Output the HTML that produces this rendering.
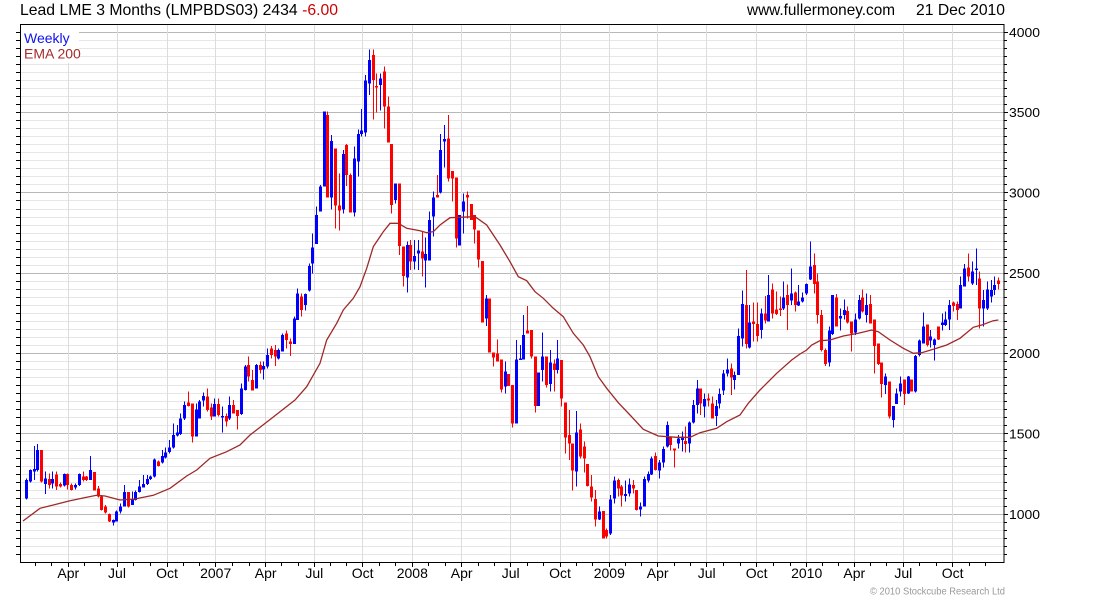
<!DOCTYPE html>
<html>
<head>
<meta charset="utf-8">
<style>
html,body{margin:0;padding:0;background:#fff;}
svg{display:block;font-family:"Liberation Sans",Arial,sans-serif;}
</style>
</head>
<body>
<svg id="c" width="1100" height="600" viewBox="0 0 1100 600" xmlns="http://www.w3.org/2000/svg">
<rect x="0" y="0" width="1100" height="600" fill="#fff"/>
<g id="grid" shape-rendering="crispEdges"></g>
<rect x="21" y="25" width="58" height="38" fill="#fff"/>
<text x="24" y="43" font-size="14" fill="#1010ee">Weekly</text>
<text x="24" y="58.5" font-size="14" fill="#a52a2a">EMA 200</text>
<g id="candles" shape-rendering="crispEdges"></g>
<polyline id="ema" fill="none" stroke="#a02828" stroke-width="1.3" points=""/>
<rect x="20.5" y="24.5" width="983.5" height="538" fill="none" stroke="#000" stroke-width="1" shape-rendering="crispEdges"/>
<g id="axes" shape-rendering="crispEdges"></g>
<g id="labels" font-size="14" fill="#000"></g>
<text x="20" y="15" font-size="16" fill="#000" textLength="318" lengthAdjust="spacingAndGlyphs">Lead LME 3 Months (LMPBDS03) 2434 <tspan fill="#cc0000">-6.00</tspan></text>
<text x="747" y="15" font-size="16" fill="#000" textLength="148" lengthAdjust="spacingAndGlyphs">www.fullermoney.com</text>
<text x="916" y="15" font-size="16" fill="#000" textLength="89" lengthAdjust="spacingAndGlyphs">21 Dec 2010</text>
<text x="870" y="594.5" font-size="10" fill="#999" textLength="135" lengthAdjust="spacingAndGlyphs">© 2010 Stockcube Research Ltd</text>
</svg>
<script>
(function(){
var NS="http://www.w3.org/2000/svg";
function el(tag,attrs,parent,txt){var e=document.createElementNS(NS,tag);for(var k in attrs)e.setAttribute(k,attrs[k]);if(txt!==undefined)e.textContent=txt;parent.appendChild(e);return e;}
var grid=document.getElementById('grid'),axes=document.getElementById('axes'),labels=document.getElementById('labels'),cg=document.getElementById('candles');
function yv(v){return 514.3-(v-1000)*0.160667;}
// horizontal gridlines
for(var v=750;v<=4000;v+=50){
  var y=Math.floor(yv(v))+0.5;
  var major=(v%500===0);
  el('line',{x1:21,x2:1004,y1:y,y2:y,stroke:major?'#b8b8b8':'#e6e6e6','stroke-width':1},grid);
  el('line',{x1:1004,x2:major?1008:1007,y1:y,y2:y,stroke:'#000','stroke-width':1},axes);
  el('line',{x1:16,x2:20,y1:y,y2:y,stroke:'#000','stroke-width':1},axes);
  if(major){el('text',{x:1009,y:(yv(v)+4.6).toFixed(1),'font-size':13,textLength:31,lengthAdjust:'spacingAndGlyphs'},labels,String(v));}
}
// vertical gridlines
var q=[68.3,117,167,215.7,265.7,314.3,362.7,412.3,461.7,510.7,560,609.3,657.7,706.7,756.7,806.7,854.3,903.3,952.7];
var ql=['Apr','Jul','Oct','2007','Apr','Jul','Oct','2008','Apr','Jul','Oct','2009','Apr','Jul','Oct','2010','Apr','Jul','Oct'];
for(var k=0;k<q.length;k++){
  var x=Math.floor(q[k])+0.5;
  el('line',{x1:x,x2:x,y1:25,y2:562,stroke:'#dcdcdc','stroke-width':1},grid);
  el('line',{x1:x,x2:x,y1:563,y2:567,stroke:'#000','stroke-width':1},axes);
  el('text',{x:q[k],y:578,'text-anchor':'middle'},labels,ql[k]);
}
var qe=[19.3].concat(q).concat([1002]);
for(var k=0;k<qe.length-1;k++){
  for(var j=1;j<3;j++){
    var x=Math.floor(qe[k]+(qe[k+1]-qe[k])*j/3)+0.5;
    el('line',{x1:x,x2:x,y1:563,y2:566,stroke:'#000','stroke-width':1},axes);
  }
}
// candles: [blue?, bodyTop, bodyBot, wickTop, wickBot] in zoom units; real = y0 + z/3
var s1=[[1,330,385,325,388],[1,300,335,298,338],[1,297,305,228,330],[1,240,300,222,305],[0,240,335,240,338],[1,325,342,305,372],[0,327,345,310,355],[1,327,340,305,355],[0,313,350,305,360],[0,342,350,338,352],
[1,312,347,310,350],[0,312,345,310,358],[0,345,360,340,362],[1,345,352,340,358],[1,312,345,310,348],[0,320,330,305,335],[0,320,330,318,333],[1,300,330,258,330],[0,306,362,306,362],[0,355,380,348,382],
[0,380,420,375,422],[0,410,428,405,430],[0,432,455,430,456],[1,450,457,448,467],[1,425,455,422,455],[1,410,425,400,430],[1,366,410,345,410],[0,366,410,366,413],[1,388,405,365,405],[1,366,390,362,392],
[1,350,366,330,368],[1,342,352,315,352],[1,327,342,315,345],[1,320,327,316,330],[1,268,320,265,322],[0,275,288,272,290],[1,258,278,240,280],[1,247,262,232,265],[1,232,246,210,250],[1,195,232,160,235],
[1,188,196,165,200],[1,145,192,130,195],[1,105,145,95,150],[0,98,108,65,110],[0,100,200,100,218],[1,118,200,100,200],[1,95,145,90,145],[1,78,92,68,110],[0,80,120,55,125],[0,112,140,100,150],
[1,102,140,85,140],[0,102,135,85,140],[1,138,142,110,188],[0,138,155,130,170],[1,105,145,80,150],[0,105,130,90,130],[0,120,138,120,178],[1,55,132,40,135]];
var s2=[[1,980,1050,975,1052],[0,975,1010,950,1025],[0,1020,1052,990,1052],[1,975,1045,972,1045],[0,975,990,965,1000],[1,978,988,965,1018],[1,945,980,925,985],[0,925,945,918,955],[0,930,950,915,978],[1,930,955,925,958],
[1,885,935,880,935],[0,880,900,872,925],[0,905,912,895,948],[1,835,912,830,912],[1,760,840,745,840],[0,770,810,760,830],[1,762,795,760,812],[1,678,752,670,755],[1,622,670,580,700],[1,525,612,500,612],
[1,440,515,435,515],[1,215,440,215,440],[0,225,472,215,472],[1,303,472,285,508],[0,326,497,326,565],[0,497,512,400,572],[1,342,508,330,520],[0,315,405,312,438],[0,405,518,400,518],[1,355,518,320,530],
[1,282,365,268,410],[1,272,282,207,290],[1,122,278,105,290],[1,60,130,28,165],[0,45,120,28,238],[0,138,143,100,218],[1,115,135,100,212],[0,95,200,80,265],[0,200,308,170,308],[0,312,495,312,520],
[1,430,480,430,490],[0,430,618,430,645],[0,620,708,620,740],[1,615,712,605,757],[0,615,665,600,690],[1,648,665,600,688],[1,632,640,600,690]];
var s3=[[0,425,445,365,500],[1,432,452,382,532],[1,330,452,305,452],[1,262,320,245,380],[0,255,262,195,262],[1,120,248,72,250],[1,87,95,45,172],[0,85,205,15,215],[0,183,205,183,275],[0,202,385,202,412],
[1,315,407,315,407],[1,275,305,250,370],[0,255,262,245,325],[0,282,330,282,330],[0,315,358,315,400],[0,362,448,362,472],[0,453,638,453,638],[1,565,625,555,648],[0,565,728,565,728],[0,728,742,728,770],
[0,730,755,688,755],[0,748,838,748,848],[1,785,830,755,850],[0,792,828,792,828],[0,825,940,825,953],[1,748,940,690,940],[1,745,748,705,748],[1,675,748,615,748],[0,662,670,588,670],[0,660,740,660,745],
[0,740,888,740,908],[1,787,888,787,888],[1,740,780,668,815],[0,740,825,740,832],[1,757,822,720,845],[0,760,780,748,845],[1,745,780,690,790],[0,750,865,750,890],[0,878,982,878,1030],[0,975,1000,900,1050],
[0,1000,1082,1000,1142],[1,967,1085,903,1130],[0,958,1040,940,1045],[0,1010,1045,995,1088],[0,1062,1128,1062,1130],[0,1130,1163,1095,1175],[0,1167,1228,1140,1250],[1,1205,1228,1190,1230]];
var s4=[[0,843,925,843,925],[0,900,920,895,925],[1,808,910,795,915],[1,752,805,740,820],[0,750,775,745,800],[0,770,797,765,830],[1,792,798,752,815],[1,763,790,745,800],[0,765,775,750,790],[0,780,840,780,842],
[1,830,838,818,860],[1,747,830,740,830],[1,732,752,725,758],[1,685,733,680,735],[0,678,720,668,722],[1,698,722,690,745],[1,657,698,650,713],[1,585,650,575,652],[0,622,645,622,662],[0,656,662,655,713],
[1,625,640,615,655],[1,620,630,605,665],[0,633,642,590,668],[1,578,640,575,668],[1,525,578,510,580],[1,475,525,450,550],[0,475,520,475,555],[1,507,530,490,562],[0,505,512,490,530],[0,520,565,500,565],
[1,528,558,510,588],[1,492,520,475,535],[1,430,482,420,495],[1,418,430,385,440],[0,415,442,400,495],[1,435,450,425,478],[1,318,435,295,435],[1,222,325,182,350],[0,225,342,120,355],[1,278,352,225,355],
[0,275,282,218,335],[0,282,318,218,335],[1,250,300,235,325],[0,250,272,198,280],[1,195,275,135,275],[0,178,250,160,265],[0,238,252,185,255],[0,235,240,200,258],[1,202,235,155,240],[0,195,225,163,300],
[1,190,212,115,225],[0,188,225,185,245],[1,215,227,165,228],[1,202,215,188,218],[1,162,190,160,195]];
var s5=[[1,110,148,35,150],[0,105,162,70,190],[0,155,255,130,280],[0,255,360,240,365],[0,360,402,355,408],[1,302,398,290,410],[1,195,312,195,315],[0,202,290,192,290],[1,258,265,235,302],[1,240,255,208,268],
[0,243,278,230,280],[0,275,310,275,365],[1,268,308,250,315],[1,210,265,195,268],[0,202,245,178,248],[1,225,255,190,278],[0,222,280,195,280],[0,268,348,268,430],[0,340,402,340,405],[0,398,462,398,502],
[1,440,465,430,492],[0,455,560,455,565],[1,528,570,528,592],[1,490,522,475,522],[1,460,485,440,500],[0,448,492,448,525],[1,440,490,438,492],[0,448,485,448,485],[1,378,485,375,488],[1,332,375,328,380],
[1,290,340,248,340],[0,283,345,283,350],[1,320,332,300,352],[1,328,345,325,392],[0,290,328,290,330],[1,278,285,250,302],[1,268,285,245,288],[1,225,268,210,300],[0,218,228,215,245],[0,222,240,215,270],
[1,165,235,140,235],[1,115,170,102,170],[0,112,140,70,155],[1,125,160,95,165],[1,115,120,55,165],[0,145,235,125,295],[1,210,235,180,290],[1,178,235,155,240],[1,180,200,150,218],[1,165,180,140,195],
[0,152,162,142,178]];
var segs=[[370,s1],[40,s2],[110,s3],[230,s4],[230,s5]];
var idx=0;
for(var s=0;s<segs.length;s++){
  var y0=segs[s][0],arr=segs[s][1];
  for(var n=0;n<arr.length;n++){
    var c=arr[n];
    var cx=Math.round(26+idx*3.768);
    var col=c[0]?'#0000ff':'#ff0000';
    var bt=y0+c[1]/3,bb=y0+c[2]/3,wt=y0+c[3]/3,wb=y0+c[4]/3;
    el('rect',{x:cx,y:wt.toFixed(1),width:1,height:Math.max(wb-wt,1).toFixed(1),fill:col},cg);
    el('rect',{x:cx-1,y:bt.toFixed(1),width:3,height:Math.max(bb-bt,1.5).toFixed(1),fill:col},cg);
    idx++;
  }
}
// EMA
var ema=[[23,521],[40,508.3],[53.3,505],[70,500.7],[86.7,497.3],[96.7,495.3],[105,496],[120,500],[135,499],[153.3,495.3],[170,488.3],[186.7,476],[196.7,470],[210,458.3],[226.7,451.7],[240,445],[250,435],[272,418],[295,400],[306.7,386.7],[320,363.3],[326.7,340],[336.7,323.3],[343.3,310],[353.3,298.3],[360,286.7],[366.7,268.3],[373.3,246.7],[383.3,231.7],[390,223.3],[398.3,223.3],[406.7,228.3],[420,230.7],[426.7,232.7],[433.3,231.7],[440,225],[450,217.7],[475,216.7],[486.7,225],[500,245],[510,261.7],[518.3,276.7],[526.7,280.7],[535,291.7],[543.3,298.3],[553.3,308.3],[563.3,316.7],[573.3,333.3],[583.3,345],[590,356.7],[598.3,376.7],[606.7,388.3],[618.3,402.7],[630,415],[643.3,429.3],[658.3,436],[676.7,437.3],[690,437.3],[700,432.7],[716.7,428.3],[726.7,421.7],[740,415],[748.3,403.3],[760,390],[776.7,373.3],[791.7,360],[800,354],[806.7,350],[811.7,345],[820,340.7],[830,340],[843.3,336],[858.3,333.3],[871.7,330],[878.3,331.7],[890,340],[903.3,348.3],[913.3,353.3],[921.7,352.7],[933.3,349.3],[946.7,345],[960,338.3],[973.3,327.3],[981.7,325],[993.3,320.7],[998.3,320]];
document.getElementById('ema').setAttribute('points',ema.map(function(p){return p[0]+','+p[1];}).join(' '));
})();
</script>
</body>
</html>
